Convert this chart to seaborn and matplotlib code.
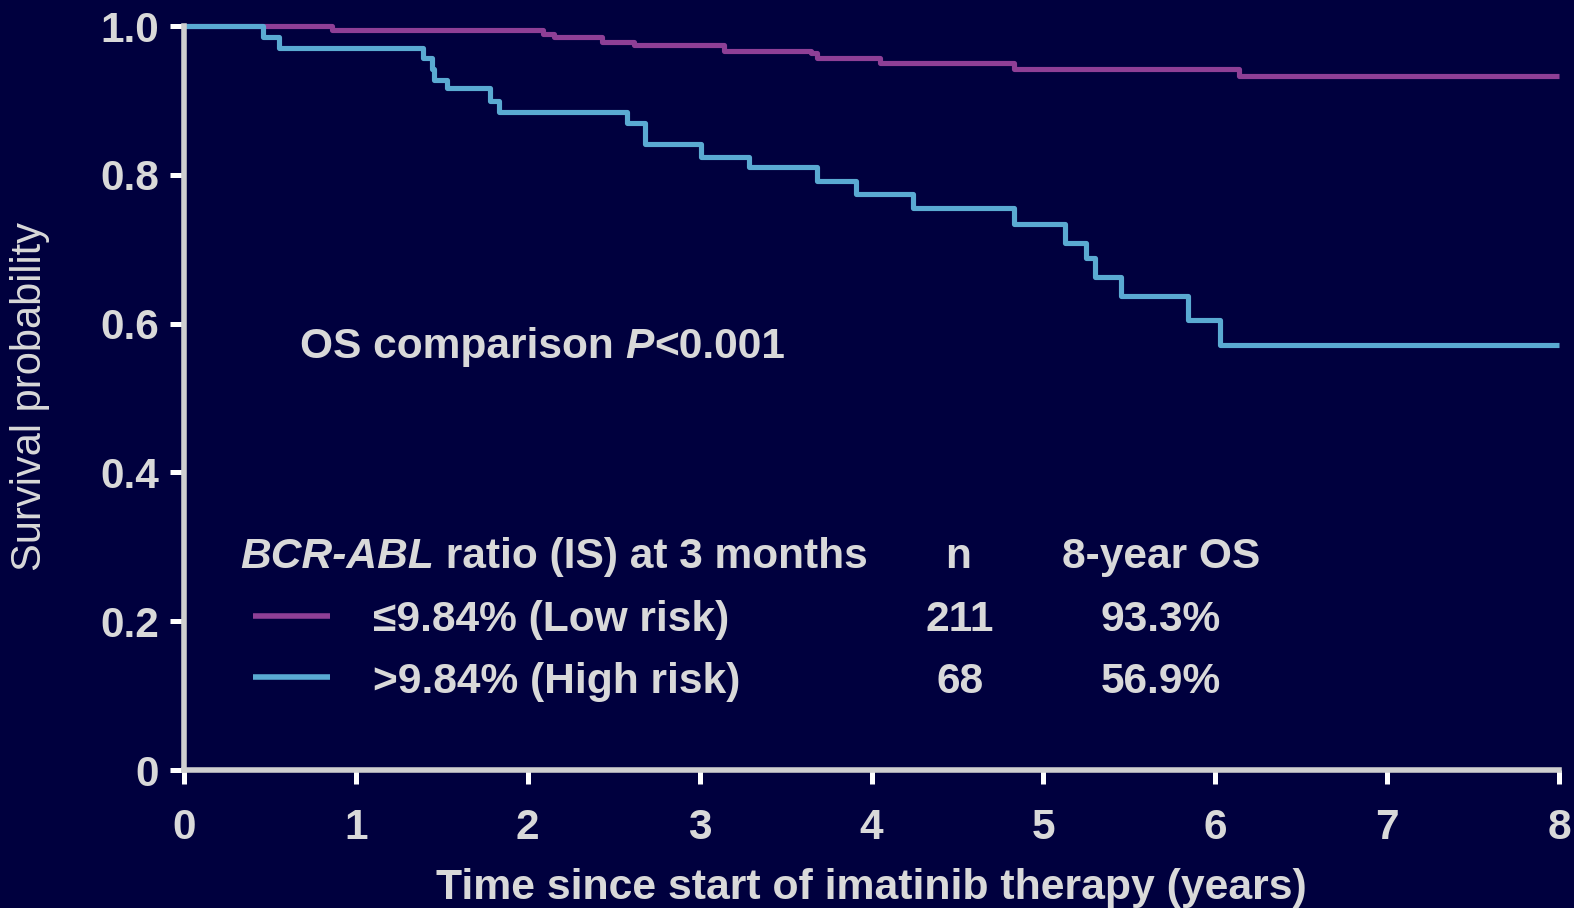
import matplotlib
matplotlib.use("Agg")
import matplotlib.pyplot as plt
import seaborn as sns
import pandas as pd

# ---- data ----
low_time = [0.0, 0.86, 2.09, 2.15, 2.43, 2.62, 3.14, 3.65, 3.68, 4.05, 4.83, 6.14, 8.0]
low_surv = [1.0, 0.995, 0.989, 0.985, 0.978, 0.974, 0.967, 0.964, 0.957, 0.950, 0.942, 0.933, 0.933]

high_time = [0.0, 0.46, 0.55, 1.39, 1.44, 1.455, 1.53, 1.78, 1.83, 2.58, 2.68, 3.01, 3.29,
             3.68, 3.91, 4.24, 4.83, 5.125, 5.25, 5.30, 5.45, 5.84, 6.03, 8.0]
high_surv = [1.0, 0.985, 0.971, 0.957, 0.942, 0.927, 0.917, 0.899, 0.884, 0.870, 0.841, 0.824, 0.810,
             0.792, 0.774, 0.756, 0.734, 0.709, 0.688, 0.662, 0.637, 0.605, 0.571, 0.571]

groups = ["≤9.84% (Low risk)", ">9.84% (High risk)"]
n_values = ["211", "68"]
os8_values = ["93.3%", "56.9%"]
x_ticks = [0, 1, 2, 3, 4, 5, 6, 7, 8]
y_ticks = [0, 0.2, 0.4, 0.6, 0.8, 1.0]
y_ticklabels = ["0", "0.2", "0.4", "0.6", "0.8", "1.0"]

BG = "#00003E"
TXT = "#D9D9D9"
PURPLE = "#8E3F96"
BLUE = "#5AAAD2"

df = pd.concat([
    pd.DataFrame({"time": low_time, "surv": low_surv, "group": groups[0]}),
    pd.DataFrame({"time": high_time, "surv": high_surv, "group": groups[1]}),
], ignore_index=True)

sns.set_style("ticks")
plt.rcParams["font.family"] = ["Liberation Sans", "DejaVu Sans"]

fig = plt.figure(figsize=(15.74, 9.08), dpi=100, facecolor=BG)
ax = fig.add_axes([0.11690, 0.15198, 0.87357, 0.81938])
ax.set_facecolor(BG)

sns.lineplot(data=df, x="time", y="surv", hue="group", palette=[PURPLE, BLUE],
             estimator=None, sort=False, drawstyle="steps-post", linewidth=3.7,
             legend=False, ax=ax)
for ln in ax.lines:
    ln.set_clip_on(False)
    ln.set_solid_capstyle("butt")

ax.set_xlim(0, 8)
ax.set_ylim(0, 1.0)
ax.set_xticks(x_ticks)
ax.set_yticks(y_ticks)
ax.set_yticklabels(y_ticklabels)

for s in ["top", "right"]:
    ax.spines[s].set_visible(False)
for s in ["left", "bottom"]:
    ax.spines[s].set_color("#CFCFCF")
    ax.spines[s].set_linewidth(4.0)
    ax.spines[s].set_zorder(5)

ax.tick_params(axis="both", colors="white", length=10, width=3.6,
               labelcolor=TXT, labelsize=30.5)
ax.tick_params(axis="y", pad=8)
ax.tick_params(axis="x", pad=17)
for lab in ax.get_xticklabels() + ax.get_yticklabels():
    lab.set_fontweight("bold")

ax.set_xlabel("Time since start of imatinib therapy (years)", fontsize=30.8,
              fontweight="bold", color=TXT)
ax.xaxis.set_label_coords(0.50, -0.159)
ax.xaxis.label.set_verticalalignment("center")

ax.set_ylabel("Survival probability", fontsize=30, color=TXT)
ax.yaxis.set_label_coords(-0.112, 0.502)
ax.yaxis.label.set_verticalalignment("center")

FS = 30.6
# annotation "OS comparison P<0.001"
t1 = ax.text(0.0844, 0.554, "OS comparison ", transform=ax.transAxes, fontsize=FS,
             fontweight="bold", color=TXT, va="baseline", ha="left")
t2 = ax.annotate("P", xy=(1, 0), xycoords=t1, fontsize=FS, fontweight="bold",
                 fontstyle="italic", color=TXT, va="bottom", ha="left")
ax.annotate("<0.001", xy=(1, 0), xycoords=t2, fontsize=FS, fontweight="bold",
            color=TXT, va="bottom", ha="left")

# legend table
h1 = ax.text(0.0407, 0.272, "BCR-ABL", transform=ax.transAxes, fontsize=FS,
             fontweight="bold", fontstyle="italic", color=TXT, va="baseline", ha="left")
ax.annotate(" ratio (IS) at 3 months", xy=(1, 0), xycoords=h1, fontsize=FS,
            fontweight="bold", color=TXT, va="bottom", ha="left")
ax.text(0.5633, 0.272, "n", transform=ax.transAxes, fontsize=FS, fontweight="bold",
        color=TXT, va="baseline", ha="center")
ax.text(0.6383, 0.272, "8-year OS", transform=ax.transAxes, fontsize=FS,
        fontweight="bold", color=TXT, va="baseline", ha="left")

row_base = [0.187, 0.1035]
key_y = [0.2065, 0.1245]
for i, (g, col) in enumerate(zip(groups, [PURPLE, BLUE])):
    ax.plot([0.0502, 0.1062], [key_y[i], key_y[i]], transform=ax.transAxes,
            color=col, linewidth=4.0, solid_capstyle="butt", clip_on=False)
    ax.text(0.1376, row_base[i], g, transform=ax.transAxes, fontsize=FS,
            fontweight="bold", color=TXT, va="baseline", ha="left",
            family=["Liberation Sans", "DejaVu Sans"])
    ax.text(0.5643, row_base[i], n_values[i], transform=ax.transAxes, fontsize=FS,
            fontweight="bold", color=TXT, va="baseline", ha="center")
    ax.text(0.6665, row_base[i], os8_values[i], transform=ax.transAxes, fontsize=FS,
            fontweight="bold", color=TXT, va="baseline", ha="left")

fig.savefig("out.png", dpi=100, facecolor=BG)
